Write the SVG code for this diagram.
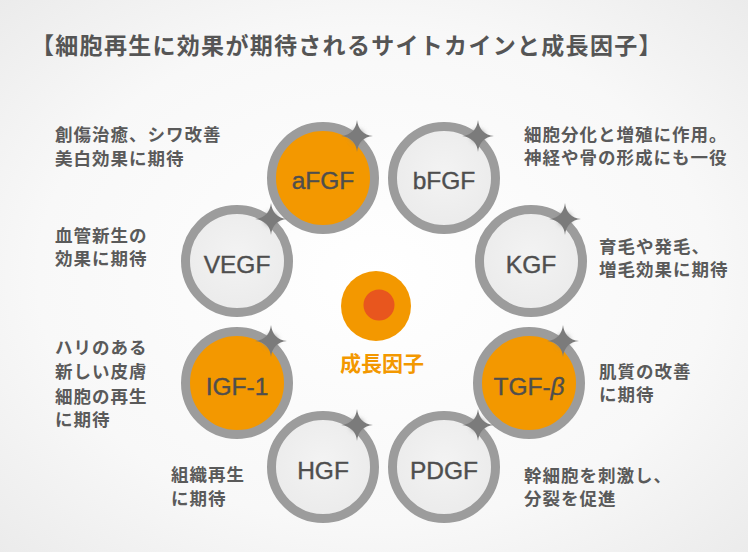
<svg xmlns="http://www.w3.org/2000/svg" width="748" height="552" viewBox="0 0 748 552">
<defs>
<radialGradient id="bg" cx="50%" cy="50%" r="75%">
<stop offset="0" stop-color="#ffffff"/>
<stop offset="0.6" stop-color="#f8f8f8"/>
<stop offset="1" stop-color="#e9e9e9"/>
</radialGradient>
<radialGradient id="grayFill" cx="50%" cy="45%" r="60%">
<stop offset="0" stop-color="#f3f3f3"/>
<stop offset="1" stop-color="#eaeaea"/>
</radialGradient>
<filter id="glow" x="-1" y="-1" width="3" height="3">
<feGaussianBlur stdDeviation="2.5"/>
</filter>
<g id="star">
<circle r="6.5" fill="#8a8a8a" filter="url(#glow)"/>
<path d="M0,-16 Q1.6,-1.6 16,0 Q1.6,1.6 0,16 Q-1.6,1.6 -16,0 Q-1.6,-1.6 0,-16Z" fill="#7b7b7b"/>
</g>
</defs>
<style>
.ring{stroke:#9c9c9c;stroke-width:9}
.gray{fill:url(#grayFill)}
.orange{fill:#f39800}
.nlabel{font-family:"Liberation Sans","Noto Sans",Arial,sans-serif;font-size:24.5px;fill:#4e4e4e;stroke:#4e4e4e;stroke-width:0.4;text-anchor:middle}
.desc{font-family:"Noto Sans CJK JP","Noto Sans CJK SC",sans-serif;font-weight:bold;font-size:17.5px;letter-spacing:1px;fill:#5a5a5a}
.title{font-family:"Noto Sans CJK JP","Noto Sans CJK SC",sans-serif;font-weight:bold;font-size:23px;letter-spacing:1.3px;fill:#555555}
</style>
<rect width="748" height="552" fill="url(#bg)"/>
<text class="title" x="31" y="54">【細胞再生に効果が期待されるサイトカインと成長因子】</text>

<g id="center">
<circle cx="376" cy="306" r="35" fill="#f39800"/>
<circle cx="379" cy="305" r="15.5" fill="#e8561e"/>
<text x="382" y="371" text-anchor="middle" font-family="Noto Sans CJK JP, Noto Sans CJK SC, sans-serif" font-weight="bold" font-size="21" fill="#f39800">成長因子</text>
</g>

<g id="aFGF">
<circle class="ring orange" cx="323" cy="178" r="51.5"/>
<use href="#star" x="357" y="136"/>
<text class="nlabel" x="323" y="189">aFGF</text>
</g>
<g id="bFGF">
<circle class="ring gray" cx="444" cy="178" r="51.5"/>
<use href="#star" x="478" y="136"/>
<text class="nlabel" x="444" y="189">bFGF</text>
</g>
<g id="VEGF">
<circle class="ring gray" cx="237" cy="261" r="51.5"/>
<use href="#star" x="271" y="219"/>
<text class="nlabel" x="237" y="273">VEGF</text>
</g>
<g id="KGF">
<circle class="ring gray" cx="531" cy="261" r="51.5"/>
<use href="#star" x="565" y="219"/>
<text class="nlabel" x="531" y="273">KGF</text>
</g>
<g id="IGF-1">
<circle class="ring orange" cx="237" cy="383" r="51.5"/>
<use href="#star" x="271" y="341"/>
<text class="nlabel" x="237" y="395">IGF-1</text>
</g>
<g id="TGF-beta">
<circle class="ring orange" cx="529" cy="383" r="51.5"/>
<use href="#star" x="563" y="341"/>
<text class="nlabel" x="529" y="395">TGF-<tspan font-style="italic">β</tspan></text>
</g>
<g id="HGF">
<circle class="ring gray" cx="323" cy="467" r="51.5"/>
<use href="#star" x="357" y="425"/>
<text class="nlabel" x="323" y="479">HGF</text>
</g>
<g id="PDGF">
<circle class="ring gray" cx="444" cy="467" r="51.5"/>
<use href="#star" x="478" y="425"/>
<text class="nlabel" x="444" y="479">PDGF</text>
</g>

<g id="desc-aFGF">
<text class="desc" x="55" y="141">創傷治癒、シワ改善</text>
<text class="desc" x="55" y="165">美白効果に期待</text>
</g>
<g id="desc-bFGF">
<text class="desc" x="524" y="141">細胞分化と増殖に作用。</text>
<text class="desc" x="524" y="164">神経や骨の形成にも一役</text>
</g>
<g id="desc-VEGF">
<text class="desc" x="55" y="242">血管新生の</text>
<text class="desc" x="55" y="265">効果に期待</text>
</g>
<g id="desc-KGF">
<text class="desc" x="599" y="253">育毛や発毛、</text>
<text class="desc" x="599" y="276">増毛効果に期待</text>
</g>
<g id="desc-IGF">
<text class="desc" x="55" y="354">ハリのある</text>
<text class="desc" x="55" y="378">新しい皮膚</text>
<text class="desc" x="55" y="403">細胞の再生</text>
<text class="desc" x="55" y="426">に期待</text>
</g>
<g id="desc-TGF">
<text class="desc" x="599" y="378">肌質の改善</text>
<text class="desc" x="599" y="401">に期待</text>
</g>
<g id="desc-HGF">
<text class="desc" x="171" y="481">組織再生</text>
<text class="desc" x="171" y="505">に期待</text>
</g>
<g id="desc-PDGF">
<text class="desc" x="524" y="482">幹細胞を刺激し、</text>
<text class="desc" x="524" y="505">分裂を促進</text>
</g>
</svg>
